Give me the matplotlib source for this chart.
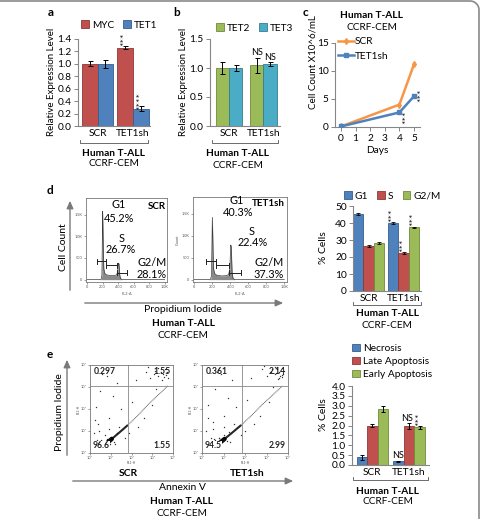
import numpy as np
import matplotlib
matplotlib.use("Agg")
import matplotlib.pyplot as plt
from matplotlib.patches import Patch

plt.rcParams['font.family'] = ['Lato', 'DejaVu Sans']

# ---------------- data ----------------
groups = ['SCR', 'TET1sh']

# panel a
myc_vals = [1.00, 1.26]
myc_err = [0.04, 0.02]
tet1_vals = [1.00, 0.28]
tet1_err = [0.06, 0.04]

# panel b
tet2_vals = [1.00, 1.05]
tet2_err = [0.10, 0.13]
tet3_vals = [1.00, 1.07]
tet3_err = [0.05, 0.03]

# panel c
days = [0, 4, 5]
scr_counts = [0.1, 4.0, 11.2]
tet1sh_counts = [0.1, 2.6, 5.5]
day_ticks = [0, 1, 2, 3, 4, 5]

# panel d: histograms (FL2-A channel, counts)
hist_x = [0, 150, 180, 190, 195, 200, 205, 210, 215, 225, 250, 300, 350, 380, 395, 400, 405, 410, 415, 420, 430, 450, 1000]
hist_scr = [0, 0, 5, 100, 800, 1580, 1100, 500, 250, 150, 110, 95, 95, 110, 200, 330, 380, 370, 260, 110, 30, 0, 0]
hist_tet = [0, 0, 5, 90, 700, 1420, 1000, 450, 230, 140, 100, 85, 90, 110, 250, 560, 790, 760, 450, 150, 30, 0, 0]
gate_g1 = [130, 240]
gate_s = [240, 390]
gate_g2 = [390, 520]
gate_heights = [420, 330, 160]
phase_scr = ['45.2%', '26.7%', '28.1%']
phase_tet = ['40.3%', '22.4%', '37.3%']

# panel d: bar chart
phases = ['G1', 'S', 'G2/M']
d_scr = [45.2, 26.4, 28.3]
d_tet = [40.0, 22.4, 37.5]
d_scr_err = [0.4, 0.4, 0.4]
d_tet_err = [0.4, 0.4, 0.4]

# panel e: dot plots (log10 annexin V, log10 PI)
decade_labels = ['10\u2070', '10\u00b9', '10\u00b2', '10\u00b3', '10\u2074']
streak_x = [0.45, 0.65, 0.85, 1.05]
streak_y = [0.22, 0.34, 0.48, 0.64]
streak2_x = [1.05, 1.40, 1.80]
streak2_y = [0.64, 0.92, 1.25]
streak3_x = [1.80, 2.30, 2.80, 3.30, 3.75]
streak3_y = [1.25, 1.70, 2.20, 2.65, 3.05]
scr_dots_x = [0.2, 0.4, 0.7, 0.3, 0.9, 1.2, 0.5, 1.5, 0.8, 1.9, 2.3, 0.6, 1.1, 2.7, 1.4, 0.35, 0.45, 2.0, 2.9, 3.1,
              3.3, 3.4, 3.5, 3.6, 3.55, 3.45, 3.65, 3.3, 3.7, 2.6, 2.2, 1.7, 0.25, 0.9, 1.3, 3.0, 3.2, 3.75, 3.15, 2.8,
              0.6, 0.8, 1.0, 0.4, 1.3, 0.7, 0.55, 1.15, 0.95, 0.35]
scr_dots_y = [0.9, 1.3, 0.8, 2.1, 1.6, 0.4, 2.8, 2.0, 3.5, 0.9, 1.2, 3.6, 2.6, 3.7, 1.2, 0.6, 1.0, 2.3, 3.4, 3.6,
              3.5, 3.7, 3.6, 3.8, 3.45, 3.3, 3.55, 3.85, 3.7, 1.6, 3.3, 0.7, 1.5, 1.1, 3.2, 2.2, 2.9, 3.4, 3.75, 3.9,
              0.55, 0.65, 0.75, 0.45, 0.9, 0.35, 0.6, 0.5, 0.4, 0.3]
tet_dots_x = [0.2, 0.5, 0.8, 0.3, 1.0, 1.3, 0.6, 1.6, 0.9, 2.0, 2.4, 0.7, 1.2, 2.8, 1.5, 0.4, 0.5, 2.1, 3.0, 3.2,
              3.4, 3.5, 3.6, 3.7, 3.65, 3.55, 3.75, 3.4, 3.8, 2.7, 2.3, 1.8, 0.3, 1.0, 1.4, 3.1, 3.3, 3.7, 3.25, 2.9,
              3.5, 3.6, 3.45, 3.7, 0.6, 0.8, 1.0, 0.45, 1.25, 0.7, 0.55, 1.15]
tet_dots_y = [1.0, 1.4, 0.7, 2.2, 1.7, 0.5, 2.9, 2.1, 3.6, 1.0, 1.3, 3.7, 2.5, 3.8, 1.3, 0.7, 1.1, 2.4, 3.5, 3.7,
              3.6, 3.8, 3.7, 3.85, 3.5, 3.35, 3.6, 3.9, 3.75, 1.7, 3.4, 0.8, 1.6, 1.2, 3.3, 2.3, 3.0, 3.45, 3.8, 3.95,
              3.9, 3.4, 3.65, 3.55, 0.6, 0.7, 0.8, 0.5, 0.95, 0.4, 0.65, 0.55]
quad_scr = ['0.297', '1.55', '96.6', '1.55']
quad_tet = ['0.361', '2.14', '94.5', '2.99']

# panel e: bar chart
apop = ['Necrosis', 'Late Apoptosis', 'Early Apoptosis']
e_scr = [0.38, 2.00, 2.85]
e_scr_err = [0.12, 0.10, 0.15]
e_tet = [0.18, 1.98, 1.90]
e_tet_err = [0.03, 0.15, 0.08]

# ---------------- style ----------------
BLUE, BLUE_E = '#4F81BD', '#385D8A'
RED, RED_E = '#C0504D', '#8C3836'
GREEN, GREEN_E = '#9BBB59', '#71893F'
TEAL, TEAL_E = '#4BACC6', '#357D91'
ORANGE = '#F79646'
AXC = '#868686'
FS = 7.3

W, H = 482, 519
fig = plt.figure(figsize=(W / 100, H / 100), dpi=100)


def add_ax(x0, y0, x1, y1):
    return fig.add_axes([x0 / W, 1 - y1 / H, (x1 - x0) / W, (y1 - y0) / H])


def ftext(x, y, s, **kw):
    kw.setdefault('fontsize', FS)
    kw.setdefault('ha', 'center')
    kw.setdefault('va', 'center')
    fig.text(x / W, 1 - y / H, s, **kw)


def excel_axes(ax):
    for s in ['top', 'right']:
        ax.spines[s].set_visible(False)
    for s in ['left', 'bottom']:
        ax.spines[s].set_color(AXC)
        ax.spines[s].set_linewidth(0.8)
    ax.tick_params(axis='y', direction='out', length=3, width=0.7, color=AXC, labelsize=FS, pad=1.5)
    ax.tick_params(axis='x', length=0, labelsize=FS, pad=2)
    ax.set_facecolor('none')


def bars(ax, offs, width, vals, errs, colors, edges):
    xs = np.arange(len(groups))
    for i in range(len(vals)):
        ax.bar(xs + offs[i], vals[i], width, color=colors[i], edgecolor=edges[i], linewidth=0.6, zorder=2)
        if errs is not None:
            ax.errorbar(xs + offs[i], vals[i], yerr=errs[i], fmt='none', ecolor='black',
                        elinewidth=0.7, capsize=1.8, capthick=0.7, zorder=3)


def stars(ax, x, y, s='***', fs=7.5):
    ax.text(x, y, s, rotation=90, ha='center', va='bottom', fontsize=fs, clip_on=False, zorder=4,
            color='#222222')


def ns(ax, x, y, fs=6.5):
    ax.text(x, y, 'NS', ha='center', va='bottom', fontsize=fs, clip_on=False, zorder=4)


def legend_at(handles, labels, x, y, ncol, loc='center left', spacing=0.3):
    fig.legend(handles, labels, loc=loc, bbox_to_anchor=(x / W, 1 - y / H), ncol=ncol, frameon=False,
               fontsize=FS, handlelength=0.75, handleheight=0.75, handletextpad=0.3, columnspacing=0.9,
               labelspacing=spacing, borderpad=0, borderaxespad=0)


def sq(c, e):
    return Patch(facecolor=c, edgecolor=e, linewidth=0.6)


# ---------------- panel a ----------------
ax = add_ax(78, 39, 150, 126)
excel_axes(ax)
bars(ax, [-0.225, 0.225], 0.45, [myc_vals, tet1_vals], [myc_err, tet1_err], [RED, BLUE], [RED_E, BLUE_E])
ax.set_ylim(0, 1.4)
ax.set_xlim(-0.55, 1.48)
ax.set_yticks(np.arange(0, 1.41, 0.2))
ax.set_yticklabels([f'{v:.1f}' for v in np.arange(0, 1.41, 0.2)])
ax.set_xticks([0, 1])
ax.set_xticklabels(groups)
stars(ax, 1 - 0.225, myc_vals[1] + myc_err[1] + 0.01)
stars(ax, 1 + 0.225, tet1_vals[1] - 0.02, '****')
legend_at([sq(RED, RED_E), sq(BLUE, BLUE_E)], ['MYC', 'TET1'], 81, 25, 2)
ftext(51, 82, 'Relative Expression Level', rotation=90, fontsize=7)
ftext(51, 13, 'a', fontweight='bold', fontsize=8.5)
ftext(114, 153, 'Human T-ALL', fontweight='bold')
ftext(114, 164, 'CCRF-CEM')

# ---------------- panel b ----------------
ax = add_ax(210, 39, 280, 126)
excel_axes(ax)
bars(ax, [-0.195, 0.195], 0.39, [tet2_vals, tet3_vals], [tet2_err, tet3_err], [GREEN, TEAL], [GREEN_E, TEAL_E])
ax.set_ylim(0, 1.5)
ax.set_xlim(-0.55, 1.48)
ax.set_yticks([0, 0.5, 1.0, 1.5])
ax.set_yticklabels(['0.0', '0.5', '1.0', '1.5'])
ax.set_xticks([0, 1])
ax.set_xticklabels(groups)
ns(ax, 1 - 0.195, tet2_vals[1] + tet2_err[1] + 0.01)
ns(ax, 1 + 0.195, tet3_vals[1] + tet3_err[1] + 0.01)
legend_at([sq(GREEN, GREEN_E), sq(TEAL, TEAL_E)], ['TET2', 'TET3'], 216, 28, 2)
ftext(183, 82, 'Relative Expression Level', rotation=90, fontsize=7)
ftext(177, 13, 'b', fontweight='bold', fontsize=8.5)
ftext(238, 154, 'Human T-ALL', fontweight='bold')
ftext(238, 165, 'CCRF-CEM')

# ---------------- panel c ----------------
ax = add_ax(335, 43, 420, 127)
excel_axes(ax)
ax.tick_params(axis='x', direction='out', length=3, width=0.7, color=AXC)
ax.plot(days, scr_counts, color=ORANGE, lw=1.8, marker='d', ms=3, label='SCR', zorder=3)
ax.plot(days, tet1sh_counts, color=BLUE, lw=1.8, marker='s', ms=3.5, label='TET1sh', zorder=3)
ax.set_ylim(0, 15)
ax.set_xlim(-0.41, 5.41)
ax.set_yticks([0, 5, 10, 15])
ax.set_xticks(day_ticks)
ax.set_xlabel('Days', fontsize=FS, labelpad=2)
ax.legend(loc='upper left', bbox_to_anchor=(0.03, 1.07), frameon=False, fontsize=FS, handlelength=1.6,
          handletextpad=0.1, labelspacing=0.55, borderpad=0, borderaxespad=0)
stars(ax, 4.5, 0.6)
stars(ax, 5.55, 4.4)
ftext(313, 62, 'Cell Count X10^6/mL', rotation=90, fontsize=7)
ftext(305, 13, 'c', fontweight='bold', fontsize=8.5)
ftext(372, 15, 'Human T-ALL', fontweight='bold')
ftext(372, 27, 'CCRF-CEM')

# ---------------- panel d histograms ----------------


def histo(box, vals, name, texts, show_count):
    ax = add_ax(*box)
    ax.fill_between(hist_x, vals, 0, color='#8a8a8a', lw=0)
    ax.plot(hist_x, vals, color='#3c3c3c', lw=0.5)
    for (g0, g1), h in zip([gate_g1, gate_s, gate_g2], gate_heights):
        ax.plot([g0, g1], [h, h], color='#222222', lw=0.7)
        ax.plot([g0, g0], [h - 60, h + 60], color='#222222', lw=0.7)
        ax.plot([g1, g1], [h - 60, h + 60], color='#222222', lw=0.7)
    ax.set_xlim(-15, 1030)
    ax.set_ylim(-54, 1885)
    ax.set_xticks([0, 200, 400, 600, 800, 1000])
    ax.set_xticklabels(['0', '200', '400', '600', '800', '1.0K'])
    ax.set_yticks([0, 500, 1000, 1500])
    ax.set_yticklabels(['0', '500', '1.0K', '1.5K'])
    ax.tick_params(labelsize=2.8, length=1.5, width=0.4, pad=1, colors='#555555')
    for s in ax.spines.values():
        s.set_color('#777777')
        s.set_linewidth(0.6)
    ax.set_xlabel('FL2-A', fontsize=2.8, labelpad=1.5, color='#555555')
    if show_count:
        ax.set_ylabel('Count', fontsize=2.8, labelpad=1.5, color='#555555')
    for (x, y, s) in texts:
        ftext(x, y, s, fontsize=7.8)
    ftext(name[1], name[2], name[0], fontweight='bold', fontsize=7)


histo((86, 198, 167, 282), hist_scr, ('SCR', 157, 206),
      [(119, 205, 'G1'), (119, 218, phase_scr[0]), (122, 238, 'S'), (121, 250, phase_scr[1]),
       (152, 263, 'G2/M'), (152, 275, phase_scr[2])], False)
histo((193, 197, 287, 282), hist_tet, ('TET1sh', 268, 204),
      [(237, 201, 'G1'), (238, 213, phase_tet[0]), (252, 231, 'S'), (253, 243, phase_tet[1]),
       (269, 263, 'G2/M'), (269, 274, phase_tet[2])], True)
ftext(50, 191, 'd', fontweight='bold', fontsize=8.5)
ftext(64, 247, 'Cell Count', rotation=90, fontsize=7.5)
ftext(183, 310, 'Propidium Iodide', fontsize=7.5)
ftext(183, 323, 'Human T-ALL', fontweight='bold')
ftext(183, 335, 'CCRF-CEM')

# ---------------- panel d bars ----------------
ax = add_ax(353, 206, 421, 291)
excel_axes(ax)
xs = np.arange(2)
offs = [-0.3, 0.0, 0.3]
for i, (c, e) in enumerate([(BLUE, BLUE_E), (RED, RED_E), (GREEN, GREEN_E)]):
    vals = [d_scr[i], d_tet[i]]
    errs = [d_scr_err[i], d_tet_err[i]]
    ax.bar(xs + offs[i], vals, 0.3, color=c, edgecolor=e, linewidth=0.6, zorder=2)
    ax.errorbar(xs + offs[i], vals, yerr=errs, fmt='none', ecolor='black', elinewidth=0.6,
                capsize=1.5, capthick=0.6, zorder=3)
    stars(ax, 1 + offs[i], d_tet[i] + 0.8)
ax.set_ylim(0, 50)
ax.set_xlim(-0.45, 1.5)
ax.set_yticks([0, 10, 20, 30, 40, 50])
ax.set_xticks([0, 1])
ax.set_xticklabels(groups)
legend_at([sq(BLUE, BLUE_E), sq(RED, RED_E), sq(GREEN, GREEN_E)], phases, 344, 196, 3)
ftext(323, 248, '% Cells', rotation=90, fontsize=7.5)
ftext(387, 314, 'Human T-ALL', fontweight='bold')
ftext(387, 326, 'CCRF-CEM')

# ---------------- panel e dot plots ----------------


def dotplot(box, dx, dy, quads, name):
    ax = add_ax(*box)
    ax.plot(streak_x, streak_y, color='black', lw=3.2, solid_capstyle='round', alpha=0.95)
    ax.plot(streak2_x, streak2_y, color='black', lw=1.5, solid_capstyle='round', alpha=0.85)
    ax.plot(streak3_x, streak3_y, color='#333333', lw=0.7, ls=(0, (1, 0.6)), alpha=0.8)
    ax.scatter(dx, dy, s=1.0, color='#333333', lw=0)
    ax.axvline(1.85, color='#888888', lw=0.6)
    ax.axhline(3.05, color='#888888', lw=0.6)
    ax.set_xlim(0, 4)
    ax.set_ylim(0, 4)
    ax.set_xticks([0, 1, 2, 3, 4])
    ax.set_yticks([0, 1, 2, 3, 4])
    ax.set_xticklabels(decade_labels)
    ax.set_yticklabels(decade_labels)
    ax.tick_params(labelsize=2.8, length=1.5, width=0.4, pad=0.8, colors='#555555')
    for s in ax.spines.values():
        s.set_color('#777777')
        s.set_linewidth(0.6)
    ax.text(0.5, -0.115, 'FL1-H', transform=ax.transAxes, fontsize=2.4, color='#555555',
            ha='center', va='center')
    ax.set_ylabel('FL2-H', fontsize=2.4, labelpad=0.5, color='#555555')
    kw = dict(fontsize=6.2, fontweight='bold', transform=ax.transAxes, color='#222222')
    ax.text(0.04, 0.93, quads[0], ha='left', va='center', **kw)
    ax.text(0.97, 0.93, quads[1], ha='right', va='center', **kw)
    ax.text(0.03, 0.08, quads[2], ha='left', va='center',
            bbox=dict(facecolor='white', edgecolor='none', pad=0.3), **kw)
    ax.text(0.97, 0.08, quads[3], ha='right', va='center', **kw)
    ftext(name[1], name[2], name[0], fontweight='bold', fontsize=7.5)


dotplot((90, 365, 173, 453), scr_dots_x, scr_dots_y, quad_scr, ('SCR', 128, 474))
dotplot((202, 365, 288, 453), tet_dots_x, tet_dots_y, quad_tet, ('TET1sh', 247, 474))
ftext(50, 355, 'e', fontweight='bold', fontsize=8.5)
ftext(59, 412, 'Propidium Iodide', rotation=90, fontsize=7.5)
ftext(182, 488, 'Annexin V', fontsize=7.5)
ftext(182, 502, 'Human T-ALL', fontweight='bold')
ftext(182, 513, 'CCRF-CEM')

# ---------------- panel e bars ----------------
ax = add_ax(352, 386, 429, 465)
excel_axes(ax)
offs = [-0.29, 0.0, 0.29]
for i, (c, e) in enumerate([(BLUE, BLUE_E), (RED, RED_E), (GREEN, GREEN_E)]):
    vals = [e_scr[i], e_tet[i]]
    errs = [e_scr_err[i], e_tet_err[i]]
    ax.bar(xs + offs[i], vals, 0.29, color=c, edgecolor=e, linewidth=0.6, zorder=2)
    ax.errorbar(xs + offs[i], vals, yerr=errs, fmt='none', ecolor='black', elinewidth=0.7,
                capsize=1.6, capthick=0.7, zorder=3)
ns(ax, 1 + offs[0], e_tet[0] + e_tet_err[0] + 0.02)
ns(ax, 1 + offs[1] - 0.05, e_tet[1] + e_tet_err[1] + 0.02)
stars(ax, 1 + offs[2], e_tet[2] + e_tet_err[2] + 0.02)
ax.set_ylim(0, 4)
ax.set_xlim(-0.56, 1.55)
ax.set_yticks(np.arange(0, 4.01, 0.5))
ax.set_yticklabels([f'{v:.1f}' for v in np.arange(0, 4.01, 0.5)])
ax.set_xticks([0, 1])
ax.set_xticklabels(groups)
legend_at([sq(BLUE, BLUE_E), sq(RED, RED_E), sq(GREEN, GREEN_E)], apop, 352, 344, 1,
          loc='upper left', spacing=0.35)
ftext(323, 415, '% Cells', rotation=90, fontsize=7.5)
ftext(388, 492, 'Human T-ALL', fontweight='bold')
ftext(388, 502, 'CCRF-CEM')

# ---------------- overlay: arrows, brackets, frame ----------------
ov = fig.add_axes([0, 0, 1, 1], zorder=10)
ov.set_xlim(0, W)
ov.set_ylim(H, 0)
ov.axis('off')
ov.patch.set_alpha(0)

arrow_kw = dict(arrowstyle='-|>,head_length=0.45,head_width=0.2', color='#7a7a7a', lw=1.0)
ov.annotate('', xy=(70, 198), xytext=(70, 293), arrowprops=arrow_kw)
ov.annotate('', xy=(286, 303), xytext=(82, 303), arrowprops=arrow_kw)
ov.annotate('', xy=(67, 357), xytext=(67, 458), arrowprops=arrow_kw)
ov.annotate('', xy=(296, 481), xytext=(70, 481), arrowprops=arrow_kw)


def bracket(x0, x1, y):
    ov.plot([x0, x0, x1, x1], [y - 3, y, y, y - 3], color='#555555', lw=0.6)


bracket(80, 148, 143)
bracket(212, 278, 143)
bracket(353, 421, 305)
bracket(353, 428, 480)

# figure frame (top edge and right edge with rounded corner)
t = np.linspace(0, np.pi / 2, 20)
r = 9
cx, cy = 479 - r, 1 + r
ov.plot(np.r_[0, cx + r * np.sin(t), 479], np.r_[1, cy - r * np.cos(t), H], color='#8a8a8a', lw=1.2)

fig.savefig('out.png', dpi=100)
